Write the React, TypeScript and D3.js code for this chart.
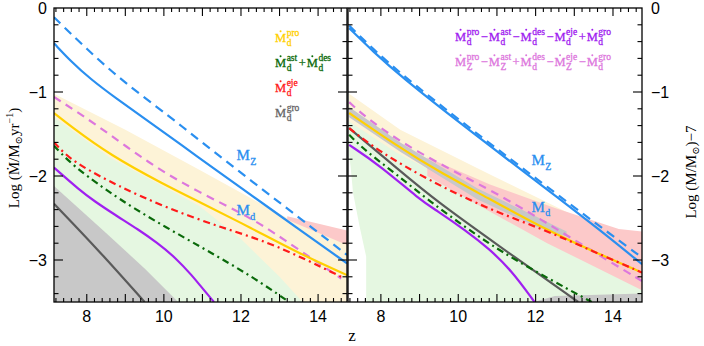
import React, { useEffect, useRef } from "react";
import * as d3 from "d3";

type P = [number, number];

// ---- left panel: dust production / destruction rates ----
const mzSolidL: P[] = [[7.15, -0.42], [7.6, -0.64], [8.08, -0.84], [8.8, -1.09], [9.55, -1.33], [10.93, -1.79], [12, -2.14], [13.52, -2.64], [14.75, -3.04]];
const mzDashL: P[] = [[7.15, -0.11], [8.0, -0.49], [8.9, -0.86], [10.2, -1.31], [10.85, -1.55], [12.3, -2.07], [13.86, -2.62], [14.75, -2.94]];
const proL: P[] = [[7.15, -1.25], [7.56, -1.4], [8.6, -1.75], [10.0, -2.1], [10.93, -2.31], [12.27, -2.62], [13.5, -2.92], [14.75, -3.18]];
const mdDashL: P[] = [[7.15, -1.06], [8.17, -1.36], [9.64, -1.86], [10.85, -2.18], [12.27, -2.5], [13.0, -2.72], [14.6, -3.22]];
const ejeL: P[] = [[7.15, -1.6], [7.39, -1.72], [7.8, -1.87], [8.77, -2.11], [10.07, -2.38], [11.53, -2.62], [12.82, -2.8], [14.6, -3.2]];
const astL: P[] = [[7.15, -1.64], [7.5, -1.81], [7.91, -1.97], [9.12, -2.37], [11.1, -2.88], [12.3, -3.2], [13.25, -3.5]];
const netL: P[] = [[7.15, -1.9], [7.82, -2.17], [8.2, -2.3], [8.69, -2.45], [9.38, -2.65], [9.81, -2.79], [10.3, -2.97], [10.76, -3.2], [10.95, -3.31], [11.3, -3.5]];
const groL: P[] = [[7.15, -2.33], [8.3, -2.88], [9.5, -3.5]];

const yellowBandL: P[] = [[7.15, -1.02], [9, -1.45], [10.93, -1.93], [12.4, -2.3], [13.2, -2.5], [14.75, -2.75], [14.75, -3.6], [7.15, -3.6]];
const greenBandL: P[] = [[7.15, -1.3], [8.6, -1.78], [10.93, -2.36], [12, -2.75], [13, -3.2], [13.8, -3.6], [7.15, -3.6]];
const grayBandL: P[] = [[7.15, -2.12], [8.5, -2.68], [9.5, -3.1], [10.37, -3.5], [10.4, -3.6], [7.15, -3.6]];
const pinkBandL: P[] = [[13.2, -2.48], [14.75, -2.65], [14.75, -2.82], [13.2, -2.52]];

// ---- right panel: net rates ----
const mzSolidR: P[] = [[7.18, -0.24], [7.8, -0.52], [8.56, -0.83], [9.88, -1.31], [10.95, -1.69], [12.3, -2.16], [13.6, -2.62], [14.75, -3.05]];
const mzDashR: P[] = [[7.18, -0.21], [7.8, -0.49], [8.56, -0.8], [9.88, -1.28], [10.95, -1.66], [12.3, -2.13], [13.6, -2.58], [14.75, -2.97]];
const proR: P[] = [[7.18, -1.25], [8.38, -1.63], [9.5, -1.95], [10.8, -2.27], [12.1, -2.6], [13.5, -2.9], [14.75, -3.15]];
const mdDashR: P[] = [[7.18, -1.12], [7.62, -1.31], [8.81, -1.69], [10.86, -2.17], [12.15, -2.52], [13.42, -2.88], [14.75, -3.25]];
const ejeR: P[] = [[7.18, -1.43], [7.96, -1.71], [9.24, -2.05], [10.7, -2.38], [12.23, -2.64], [13.5, -2.9], [14.75, -3.15]];
const groR: P[] = [[7.18, -1.43], [8.47, -1.93], [9.41, -2.29], [10.95, -2.8], [13.1, -3.5]];
const astR: P[] = [[7.18, -1.51], [7.6, -1.7], [8.4, -1.98], [9.23, -2.29], [10.3, -2.65], [11.37, -2.98], [13.45, -3.5]];
const netR: P[] = [[7.18, -1.63], [7.96, -1.87], [9.03, -2.29], [9.41, -2.4], [10.2, -2.65], [10.78, -2.86], [11.37, -3.12], [11.97, -3.5]];

const yellowBandR: P[] = [[7.18, -1.02], [8.5, -1.45], [10.9, -2.0], [12.95, -2.46], [14.75, -2.8], [14.75, -3.3], [12, -2.8], [10, -2.3], [7.18, -1.4]];
const greenBandR: P[] = [[7.18, -1.35], [8.4, -1.72], [10.8, -2.3], [12.3, -2.68], [14.75, -3.25], [14.75, -3.6], [7.62, -3.6], [7.62, -2.96], [7.45, -2.6], [7.28, -2.2], [7.22, -1.9], [7.18, -1.75]];
const pinkBandR: P[] = [[9.2, -1.78], [10.82, -2.1], [12.5, -2.38], [14.15, -2.63], [14.75, -2.66], [14.75, -3.36], [12.3, -2.8], [10.8, -2.42], [9.2, -2.0]];
const grayBandR: P[] = [[7.18, -1.18], [8.5, -1.6], [10.5, -2.15], [12.0, -2.48], [12.8, -2.66], [12.8, -2.72], [12.0, -2.6], [10.5, -2.28], [8.5, -1.71], [7.18, -1.3]];
const grayStripR: P[] = [[11.95, -3.5], [12.5, -3.43], [14.75, -3.4], [14.75, -3.6], [11.95, -3.6]];

const xTickLabels = [8, 10, 12, 14];
const yTickLabels = [0, -1, -2, -3];

const C = {
  blue: "#2a8ff0",
  gold: "#ffd000",
  orchid: "#dd77dd",
  red: "#ff1a1a",
  green: "#0a6a0a",
  purple: "#a020f0",
  gray: "#5a5a5a",
  bandYellow: "#fdf3d7",
  bandGreen: "#e5f7e1",
  bandGray: "#c8c8c8",
  bandPink: "#fcc9c9",
};

export default function App() {
  const svgRef = useRef<SVGSVGElement>(null);

  useEffect(() => {
    const svg = d3.select(svgRef.current);
    svg.selectAll("*").remove();

    const yTop = 8, yBot = 302;
    const y = d3.scaleLinear().domain([0, -3.5]).range([yTop, yBot]);
    const xL = d3.scaleLinear().domain([7.15, 14.75]).range([54, 347]);
    const xR = d3.scaleLinear().domain([7.15, 14.75]).range([348, 642]);

    const serif = "'Liberation Serif', 'DejaVu Serif', serif";
    const sans = "'Liberation Sans', Arial, sans-serif";

    const panels = [
      { x: xL, id: "clipL",
        bands: [[yellowBandL, C.bandYellow], [greenBandL, C.bandGreen], [pinkBandL, C.bandPink], [grayBandL, C.bandGray]],
        lines: [
          [mzDashL, C.blue, "9,6"], [mzSolidL, C.blue, null],
          [mdDashL, C.orchid, "8,6"], [proL, C.gold, null],
          [ejeL, C.red, "7,4,2,4"], [astL, C.green, "7,4,2,4"],
          [netL, C.purple, null], [groL, C.gray, null],
        ] },
      { x: xR, id: "clipR",
        bands: [[yellowBandR, C.bandYellow], [greenBandR, C.bandGreen], [pinkBandR, C.bandPink], [grayBandR, C.bandGray], [grayStripR, C.bandGray]],
        lines: [
          [mzSolidR, C.blue, null], [mzDashR, C.blue, "9,6"],
          [mdDashR, C.orchid, "8,6"], [proR, C.gold, null],
          [groR, C.gray, null], [astR, C.green, "7,4,2,4"],
          [ejeR, C.red, "7,4,2,4"], [netR, C.purple, null],
        ] },
    ] as any[];

    const defs = svg.append("defs");

    panels.forEach((p) => {
      const [x0, x1] = p.x.range();
      defs.append("clipPath").attr("id", p.id)
        .append("rect").attr("x", x0).attr("y", yTop).attr("width", x1 - x0).attr("height", yBot - yTop);

      const g = svg.append("g").attr("clip-path", `url(#${p.id})`);

      const area = d3.line<P>().x((d) => p.x(d[0])).y((d) => y(d[1])).curve(d3.curveLinearClosed);
      p.bands.forEach(([pts, col]: [P[], string]) => {
        g.append("path").attr("d", area(pts)).attr("fill", col).attr("stroke", "none");
      });

      const line = d3.line<P>().x((d) => p.x(d[0])).y((d) => y(d[1])).curve(d3.curveBasis);
      p.lines.forEach(([pts, col, dash]: [P[], string, string | null]) => {
        g.append("path").attr("d", line(pts)).attr("fill", "none")
          .attr("stroke", col).attr("stroke-width", 2.2)
          .attr("stroke-dasharray", dash);
      });

      // frame
      svg.append("rect").attr("x", x0).attr("y", yTop).attr("width", x1 - x0).attr("height", yBot - yTop)
        .attr("fill", "none").attr("stroke", "#000").attr("stroke-width", 1.3);

      // ticks (inward, all sides)
      const ticks = svg.append("g").attr("stroke", "#000").attr("stroke-width", 1.1);
      d3.range(36, 75).map((i) => i / 5).filter((z) => z > 7.15 && z < 14.75).forEach((z) => {
        const major = Math.abs(z - Math.round(z)) < 1e-6;
        const len = major ? 8 : 4;
        const xx = p.x(z);
        ticks.append("line").attr("x1", xx).attr("x2", xx).attr("y1", yBot).attr("y2", yBot - len);
        ticks.append("line").attr("x1", xx).attr("x2", xx).attr("y1", yTop).attr("y2", yTop + len);
      });
      d3.range(1, 18).map((i) => -i / 5).forEach((v) => {
        const major = Math.abs(v - Math.round(v)) < 1e-6;
        const len = major ? 9 : 4.5;
        const yy = y(v);
        ticks.append("line").attr("x1", x0).attr("x2", x0 + len).attr("y1", yy).attr("y2", yy);
        ticks.append("line").attr("x1", x1).attr("x2", x1 - len).attr("y1", yy).attr("y2", yy);
      });

      xTickLabels.forEach((z) => {
        svg.append("text").attr("x", p.x(z)).attr("y", 321.5).attr("text-anchor", "middle")
          .attr("font-family", sans).attr("font-size", 16).text(String(z));
      });
    });

    yTickLabels.forEach((v) => {
      const t = v === 0 ? "0" : "\u2212" + Math.abs(v);
      svg.append("text").attr("x", 47).attr("y", y(v) + 5.5).attr("text-anchor", "end")
        .attr("font-family", sans).attr("font-size", 16).text(t);
      svg.append("text").attr("x", 651).attr("y", y(v) + 5.5).attr("text-anchor", "start")
        .attr("font-family", sans).attr("font-size", 16).text(t);
    });

    // z label
    svg.append("text").attr("x", 352).attr("y", 341).attr("text-anchor", "middle")
      .attr("font-family", serif).attr("font-size", 17).text("z");

    // left y label
    const ly = svg.append("text").attr("transform", "translate(19,158) rotate(-90)")
      .attr("text-anchor", "middle").attr("font-family", serif).attr("font-size", 15);
    ly.append("tspan").text("Log (\u1E40/M");
    ly.append("tspan").attr("dy", 3).attr("font-size", 10).text("\u2299");
    ly.append("tspan").attr("dy", -3).text("yr");
    ly.append("tspan").attr("dy", -6).attr("font-size", 10).text("\u22121");
    ly.append("tspan").attr("dy", 6).text(")");

    // right y label
    const ry = svg.append("text").attr("transform", "translate(696,172) rotate(-90)")
      .attr("text-anchor", "middle").attr("font-family", serif).attr("font-size", 15);
    ry.append("tspan").text("Log (M/M");
    ry.append("tspan").attr("dy", 3).attr("font-size", 10).text("\u2299");
    ry.append("tspan").attr("dy", -3).text(")\u22127");

    // --- legend helpers: dotted M with stacked super/subscript ---
    const txt = (x: number, yb: number, s: string, col: string, fs: number) =>
      svg.append("text").attr("x", x).attr("y", yb).attr("font-family", serif)
        .attr("font-size", fs).attr("fill", col).attr("stroke", col).attr("stroke-width", 0.3).text(s);

    const term = (x: number, yb: number, sup: string, sub: string, col: string, fs: number, sfs: number, dot: boolean) => {
      const m = txt(x, yb, "M", col, fs);
      const w = (m.node() as SVGTextElement).getComputedTextLength();
      if (dot) {
        svg.append("circle").attr("cx", x + w / 2).attr("cy", yb - fs * 0.68 - 2.2).attr("r", 1).attr("fill", col);
      }
      let sw = 0;
      if (sup) {
        const s = txt(x + w + 0.5, yb - fs * 0.46, sup, col, sfs);
        sw = (s.node() as SVGTextElement).getComputedTextLength();
      }
      let bw = 0;
      if (sub) {
        const s = txt(x + w + 0.5, yb + fs * 0.32, sub, col, sfs);
        bw = (s.node() as SVGTextElement).getComputedTextLength();
      }
      return x + w + Math.max(sw, bw) + 1.5;
    };
    const op = (x: number, yb: number, s: string, col: string, fs: number) => {
      const t = txt(x + 0.5, yb, s, col, fs);
      return x + 0.5 + (t.node() as SVGTextElement).getComputedTextLength() + 1;
    };

    const FS = 12.5, SFS = 9.5;
    // left legend
    term(275, 42, "pro", "d", C.gold, FS, SFS, true);
    let cx = term(275, 67, "ast", "d", C.green, FS, SFS, true);
    cx = op(cx, 67, "+", C.green, FS);
    term(cx, 67, "des", "d", C.green, FS, SFS, true);
    term(275, 92, "eje", "d", C.red, FS, SFS, true);
    term(275, 117, "gro", "d", "#666", FS, SFS, true);

    // right legend
    const row = (yb: number, items: [string, string][], ops: string[], col: string) => {
      let xx = 455;
      items.forEach((it, i) => {
        xx = term(xx, yb, it[0], it[1], col, FS, SFS, true);
        if (i < ops.length) xx = op(xx, yb, ops[i], col, FS);
      });
    };
    row(40.5, [["pro", "d"], ["ast", "d"], ["des", "d"], ["eje", "d"], ["gro", "d"]], ["\u2212", "\u2212", "\u2212", "+"], C.purple);
    row(66, [["pro", "Z"], ["ast", "Z"], ["des", "d"], ["eje", "Z"], ["gro", "d"]], ["\u2212", "+", "\u2212", "\u2212"], C.orchid);

    // curve labels
    term(236.5, 160, "", "Z", C.blue, 15, 10, false);
    term(236.5, 215, "", "d", C.blue, 15, 10, false);
    term(531.5, 165, "", "Z", C.blue, 15, 10, false);
    term(531.5, 211.5, "", "d", C.blue, 15, 10, false);
  }, []);

  return (
    <div>
      <svg ref={svgRef} width={704} height={346} style={{ position: "absolute", left: 0, top: 0 }}></svg>
    </div>
  );
}
